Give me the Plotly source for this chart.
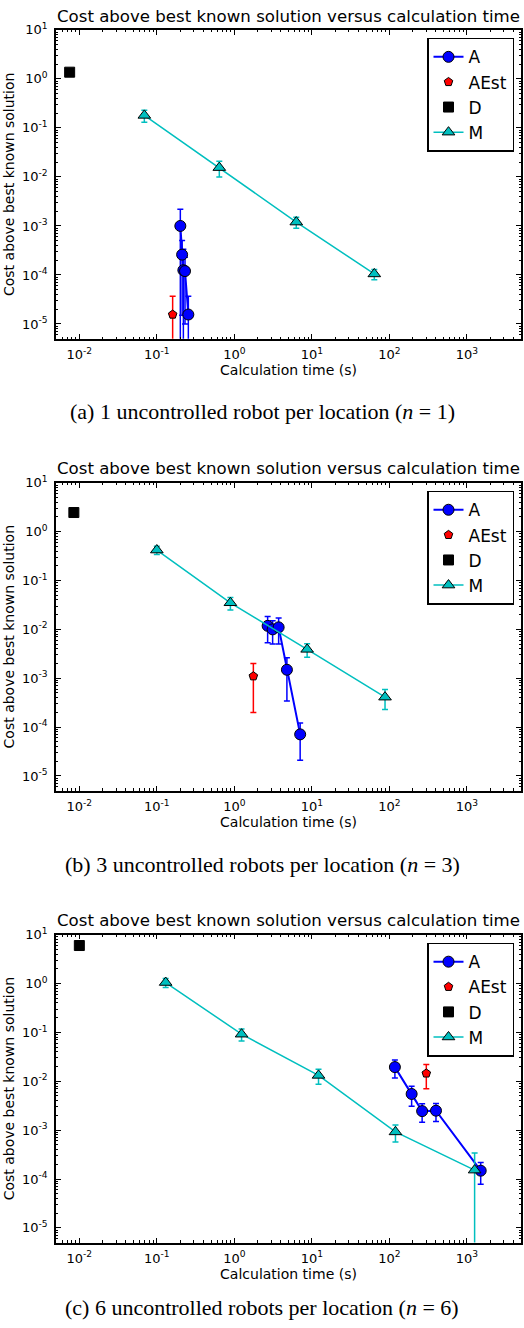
import plotly.graph_objs as go
import numpy as np

# panel (a): n = 1
a1_time = [0.201, 0.212, 0.22, 0.231, 0.255]
a1_cost = [1.0e-3, 2.6e-4, 1.25e-4, 1.2e-4, 1.56e-5]
a1_err = [1.2e-3, 2.45e-4, 2.1e-4, 1.1e-4, 2.1e-5]
aest1_time = [0.16]
aest1_cost = [1.56e-5]
aest1_err = [2.1e-5]
d1_time = [0.0075]
d1_cost = [1.37]
m1_time = [0.069, 0.64, 6.3, 64]
m1_cost = [0.18, 0.0155, 0.0012, 1.05e-4]
m1_err = [0.05, 0.0055, 0.0003, 0.25e-4]

# panel (b): n = 3
a2_time = [2.69, 3.12, 3.73, 4.77, 7.07]
a2_cost = [0.0118, 0.0100, 0.0110, 0.00149, 7.1e-5]
a2_err = [0.0065, 0.005, 0.006, 0.00115, 5e-5]
aest2_time = [1.76]
aest2_cost = [0.0011]
aest2_err = [0.0009]
d2_time = [0.0085]
d2_cost = [2.46]
m2_time = [0.1, 0.89, 8.7, 88]
m2_cost = [0.42, 0.035, 0.0039, 4.1e-4]
m2_err = [0.08, 0.01, 0.0012, 1.8e-4]

# panel (c): n = 6
a3_time = [118, 194, 265, 400, 1510]
a3_cost = [0.0195, 0.0055, 0.00245, 0.0025, 1.48e-4]
a3_err = [0.0078, 0.0024, 0.001, 0.001, 7e-5]
aest3_time = [300]
aest3_cost = [0.0145]
aest3_err = [0.0075]
d3_time = [0.01]
d3_cost = [6.0]
m3_time = [0.13, 1.24, 12.2, 120, 1260]
m3_cost = [1.05, 0.092, 0.0132, 9.2e-4, 1.52e-4]
m3_err = [0.22, 0.025, 0.0045, 3.5e-4, 1.9e-4]

x_ticks = [0.01, 0.1, 1, 10, 100, 1000]
x_ticktext = ['10<sup>-2</sup>', '10<sup>-1</sup>', '10<sup>0</sup>',
              '10<sup>1</sup>', '10<sup>2</sup>', '10<sup>3</sup>']
y_ticks = [1e-5, 1e-4, 1e-3, 1e-2, 1e-1, 1, 10]
y_ticktext = ['10<sup>-5</sup>', '10<sup>-4</sup>', '10<sup>-3</sup>',
              '10<sup>-2</sup>', '10<sup>-1</sup>', '10<sup>0</sup>',
              '10<sup>1</sup>']

captions = ['(a) 1 uncontrolled robot per location (<i>n</i> = 1)',
            '(b) 3 uncontrolled robots per location (<i>n</i> = 3)',
            '(c) 6 uncontrolled robots per location (<i>n</i> = 6)']

W, H = 524, 1328
FONT = 'DejaVu Sans'
CYAN = 'rgb(0, 191, 191)'


def py(px):
    # pixel row -> paper fraction
    return 1 - px / H


# plot area top/bottom in pixels for each panel
panel_px = [(21, 332), (477, 787), (932, 1242)]
title_px = [19, 474, 929]
caption_px = [405, 861, 1307]
legend_px = [29, 485, 940]

minor_x = [m * 10.0 ** e for e in range(-3, 4) for m in range(2, 10)]
minor_y = [m * 10.0 ** e for e in range(-6, 1) for m in range(2, 10)]


def panelTraces(i, a, aest, d, m):
    ax = '' if i == 1 else str(i)
    leg = 'legend' if i == 1 else 'legend' + str(i)
    common = dict(xaxis='x' + ax, yaxis='y' + ax, legend=leg, hoverinfo='x+y')
    a_trace = go.Scatter(
        x=a[0], y=a[1], name='A', mode='lines+markers',
        line=dict(color='blue', width=2),
        marker=dict(symbol='circle', size=11, color='blue',
                    line=dict(color='black', width=1)),
        error_y=dict(type='data', array=a[2], color='blue',
                     thickness=1.5, width=3),
        **common)
    aest_trace = go.Scatter(
        x=aest[0], y=aest[1], name='AEst', mode='markers',
        marker=dict(symbol='pentagon', size=9, color='red',
                    line=dict(color='black', width=1)),
        error_y=dict(type='data', array=aest[2], color='red',
                     thickness=1.5, width=3),
        **common)
    d_trace = go.Scatter(
        x=d[0], y=d[1], name='D', mode='markers',
        marker=dict(symbol='square', size=10, color='black',
                    line=dict(color='black', width=1)),
        **common)
    m_trace = go.Scatter(
        x=m[0], y=m[1], name='M', mode='lines+markers',
        line=dict(color=CYAN, width=1.5),
        marker=dict(symbol='triangle-up', size=11, color=CYAN,
                    line=dict(color='black', width=1)),
        error_y=dict(type='data', array=m[2], color=CYAN,
                     thickness=1.5, width=3),
        **common)
    return [a_trace, aest_trace, d_trace, m_trace]


data = []
data += panelTraces(1, (a1_time, a1_cost, a1_err), (aest1_time, aest1_cost, aest1_err),
                    (d1_time, d1_cost), (m1_time, m1_cost, m1_err))
data += panelTraces(2, (a2_time, a2_cost, a2_err), (aest2_time, aest2_cost, aest2_err),
                    (d2_time, d2_cost), (m2_time, m2_cost, m2_err))
data += panelTraces(3, (a3_time, a3_cost, a3_err), (aest3_time, aest3_cost, aest3_err),
                    (d3_time, d3_cost), (m3_time, m3_cost, m3_err))

layout = dict(
    width=W, height=H, autosize=False,
    margin=dict(l=0, r=0, t=0, b=0),
    paper_bgcolor='white', plot_bgcolor='white',
    font=dict(family=FONT, color='black'),
    hovermode='closest',
    annotations=[],
)

for i in range(1, 4):
    ax = '' if i == 1 else str(i)
    top, bot = panel_px[i - 1]
    layout['xaxis' + ax] = dict(
        type='log', range=[np.log10(0.005), np.log10(5000)],
        domain=[56 / W, 521 / W], anchor='y' + ax,
        tickmode='array', tickvals=x_ticks, ticktext=x_ticktext,
        ticks='inside', ticklen=5, tickwidth=1, tickcolor='black',
        tickfont=dict(size=13), ticklabelstandoff=3,
        minor=dict(ticks='inside', ticklen=2.5, tickwidth=1, tickcolor='black',
                   tickvals=minor_x, showgrid=False),
        showline=True, linecolor='black', linewidth=1.5, mirror='allticks',
        showgrid=False, zeroline=False,
        title=dict(text='Calculation time (s)', font=dict(size=14), standoff=3))
    layout['yaxis' + ax] = dict(
        type='log', range=[np.log10(5e-6), 1],
        domain=[py(bot), py(top)], anchor='x' + ax,
        tickmode='array', tickvals=y_ticks, ticktext=y_ticktext,
        ticks='inside', ticklen=5, tickwidth=1, tickcolor='black',
        tickfont=dict(size=13), ticklabelstandoff=4,
        minor=dict(ticks='inside', ticklen=2.5, tickwidth=1, tickcolor='black',
                   tickvals=minor_y, showgrid=False),
        showline=True, linecolor='black', linewidth=1.5, mirror='allticks',
        showgrid=False, zeroline=False,
        title=dict(text='Cost above best known solution', font=dict(size=14), standoff=4))
    leg = 'legend' if i == 1 else 'legend' + str(i)
    layout[leg] = dict(
        x=514 / W, xanchor='right', y=py(legend_px[i - 1]), yanchor='top',
        bgcolor='white', bordercolor='black', borderwidth=1.5,
        font=dict(family=FONT, size=17, color='black'),
        tracegroupgap=0)
    layout['annotations'].append(dict(
        text='Cost above best known solution versus calculation time',
        xref='paper', yref='paper', x=(56 + 521) / 2 / W, y=py(title_px[i - 1]),
        xanchor='center', yanchor='bottom', showarrow=False,
        font=dict(family=FONT, size=16.6, color='black')))
    layout['annotations'].append(dict(
        text=captions[i - 1],
        xref='paper', yref='paper', x=0.5, y=py(caption_px[i - 1]),
        xanchor='center', yanchor='middle', showarrow=False,
        font=dict(family='Liberation Serif', size=22, color='black')))

fig = go.Figure(data=data, layout=layout)
# page body margin would push the fixed-size figure off the window
fig.write_html("out.html", config={'displayModeBar': False},
               post_script="document.body.style.margin='0';"
                           "document.body.style.overflow='hidden';")
